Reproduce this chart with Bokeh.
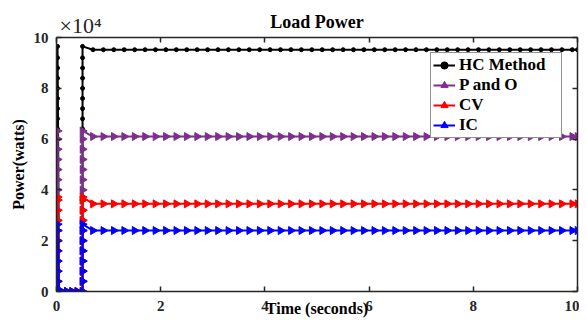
import numpy as np
from bokeh.plotting import figure
from bokeh.models import Range1d, LinearAxis, Legend, LegendItem, FixedTicker, Title
from bokeh.embed import file_html
from bokeh.resources import INLINE

# ---------------- data ----------------
series_names = ["HC Method", "P and O", "CV", "IC"]
series_colors = ["#000000", "#7E2F8E", "#FF0000", "#0000FF"]
series_markers = ["circle", "triangle", "triangle", "triangle"]

# steady-state load power (W)
steady_power = [95200, 61000, 34500, 24000]

# transient samples on the two switching instants (W)
hc_rise = [0, 4000, 8000, 12000, 16000, 20000, 24000, 28000, 32000, 36000, 40000, 44000,
           48000, 52000, 56000, 60000, 64000, 68000, 72000, 76000, 80000, 84000, 88000,
           92000, 96500]
po_rise = [0, 4000, 8000, 12000, 16000, 20000, 24000, 28000, 32000, 36000, 40000, 44000,
           48000, 52000, 56000, 60000, 63200]
cv_rise = [0, 4000, 8000, 12000, 16000, 20000, 24000, 28000, 32000, 36000, 37200]
ic_rise = [0, 4000, 8000, 12000, 16000, 20000, 24000, 26500]
rises = [hc_rise, po_rise, cv_rise, ic_rise]

t_first = 0.02      # first switching instant (s)
t_drop = 0.05       # power collapses
t_second = 0.5      # second switching instant (s)
zero_t = [0.1, 0.2, 0.3, 0.4]
steady_t = list(np.round(np.arange(0.7, 10.0, 0.2), 2)) + [10.0]

x_ticks = [0, 2, 4, 6, 8, 10]
y_ticks = [0, 20000, 40000, 60000, 80000, 100000]
y_tick_labels = ["0", "2", "4", "6", "8", "10"]

title_text = "Load Power"
x_label = "Time (seconds)"
y_label = "Power(watts)"
exp_text = "×10⁴"

# ---------------- figure ----------------
p = figure(width=579, height=319, output_backend="svg", toolbar_location=None,
           x_range=Range1d(0, 10), y_range=Range1d(0, 100000),
           min_border_left=56, min_border_right=2, min_border_top=37, min_border_bottom=28,
           x_axis_location=None, y_axis_location=None, title=None)
p.xgrid.visible = False
p.ygrid.visible = False
p.outline_line_color = None
p.background_fill_color = "white"
p.border_fill_color = "white"

FONT = "Liberation Serif"
AX = "#262626"


def make_axis(kind, ticks, labels, show):
    ax = LinearAxis(ticker=FixedTicker(ticks=ticks))
    ax.axis_line_color = AX
    ax.axis_line_width = 1.5
    ax.major_tick_line_color = AX
    ax.major_tick_line_width = 1.5
    ax.major_tick_in = 5
    ax.major_tick_out = 0
    ax.minor_tick_in = 0
    ax.minor_tick_out = 0
    ax.major_label_text_font = FONT
    ax.major_label_text_font_style = "bold"
    ax.major_label_text_color = AX
    ax.axis_label_text_font = FONT
    ax.axis_label_text_font_style = "bold"
    ax.axis_label_text_color = "black"
    if show:
        ax.major_label_text_font_size = "15px"
        ax.major_label_overrides = {t: l for t, l in zip(ticks, labels)}
        ax.major_label_standoff = 8 if kind == "y" else 9
    else:
        ax.major_label_text_font_size = "0px"
        ax.major_label_overrides = {t: "" for t in ticks}
        ax.major_label_standoff = 0
    return ax


xb = make_axis("x", x_ticks, [str(v) for v in x_ticks], True)
xb.axis_label = x_label
xb.axis_label_text_font_size = "16px"
xb.axis_label_standoff = -14
yl = make_axis("y", y_ticks, y_tick_labels, True)
yl.axis_label = y_label
yl.axis_label_text_font_size = "16px"
yl.axis_label_standoff = 4
p.add_layout(xb, "below")
p.add_layout(yl, "left")
p.add_layout(make_axis("x", x_ticks, None, False), "above")
p.add_layout(make_axis("y", y_ticks, None, False), "right")

p.add_layout(Title(text=exp_text, align="left", offset=3, standoff=0,
                   text_font=FONT, text_font_style="normal", text_font_size="22px",
                   text_color=AX), "above")
p.add_layout(Title(text=title_text, align="center", standoff=-42,
                   text_font=FONT, text_font_style="bold", text_font_size="18px",
                   text_color="black"), "above")

legend_items = []
for name, color, marker, rise, steady in zip(series_names, series_colors, series_markers,
                                             rises, steady_power):
    t = [t_first] * len(rise) + [t_drop] + zero_t + [t_second] * len(rise) + steady_t
    pw = rise + [0] + [0] * len(zero_t) + rise + [steady] * len(steady_t)
    r_line = p.line(t, pw, line_color=color, line_width=2)
    if marker == "circle":
        r_mark = p.scatter(t, pw, marker="circle", size=4, fill_color=color, line_color=color)
    else:
        r_mark = p.scatter(t, pw, marker="triangle", size=8, angle=-np.pi / 2,
                           fill_color=color, line_color=color)
    legend_items.append(LegendItem(label=name, renderers=[r_line, r_mark]))

legend = Legend(items=legend_items, location="top_right")
legend.margin = 15
legend.padding = 2
legend.spacing = 0
legend.glyph_width = 22
legend.glyph_height = 18
legend.label_height = 18
legend.label_width = 100
legend.label_standoff = 4
legend.label_text_font = FONT
legend.label_text_font_style = "bold"
legend.label_text_font_size = "17px"
legend.label_text_color = "black"
legend.border_line_color = AX
legend.border_line_width = 1.5
legend.background_fill_color = "white"
legend.background_fill_alpha = 1.0
p.add_layout(legend, "center")

open("out.html", "w").write(file_html(p, INLINE))
